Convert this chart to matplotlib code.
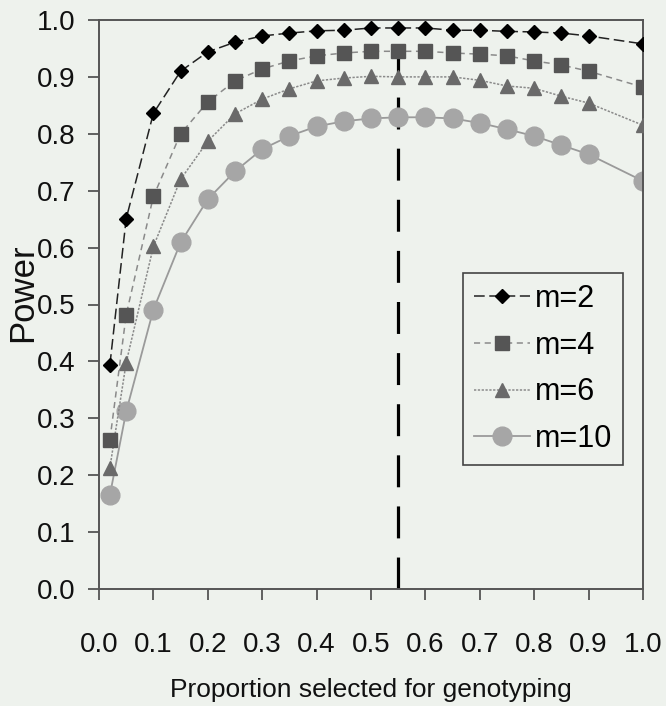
import matplotlib
matplotlib.use("Agg")
import matplotlib.pyplot as plt

plt.rcParams['font.family'] = ['Liberation Sans', 'DejaVu Sans']

proportion = [0.02, 0.05, 0.10, 0.15, 0.20, 0.25, 0.30, 0.35, 0.40, 0.45,
              0.50, 0.55, 0.60, 0.65, 0.70, 0.75, 0.80, 0.85, 0.90, 1.00]
power_m2 = [0.394, 0.651, 0.836, 0.910, 0.944, 0.961, 0.972, 0.977, 0.981, 0.982,
            0.986, 0.986, 0.986, 0.982, 0.982, 0.980, 0.979, 0.977, 0.972, 0.958]
power_m4 = [0.262, 0.482, 0.690, 0.800, 0.856, 0.893, 0.914, 0.928, 0.937, 0.942,
            0.945, 0.945, 0.945, 0.942, 0.940, 0.937, 0.928, 0.921, 0.910, 0.882]
power_m6 = [0.213, 0.398, 0.602, 0.720, 0.787, 0.835, 0.861, 0.879, 0.893, 0.898,
            0.901, 0.900, 0.900, 0.900, 0.894, 0.884, 0.880, 0.866, 0.854, 0.815]
power_m10 = [0.165, 0.312, 0.491, 0.609, 0.685, 0.734, 0.773, 0.796, 0.813, 0.822,
             0.827, 0.829, 0.829, 0.827, 0.819, 0.808, 0.796, 0.780, 0.764, 0.717]
series_labels = ["m=2", "m=4", "m=6", "m=10"]
optimum_proportion = 0.55
optimum_top = 0.986

xticks = [0.0, 0.1, 0.2, 0.3, 0.4, 0.5, 0.6, 0.7, 0.8, 0.9, 1.0]
yticks = [0.0, 0.1, 0.2, 0.3, 0.4, 0.5, 0.6, 0.7, 0.8, 0.9, 1.0]

bg = '#eef2ed'
fig = plt.figure(figsize=(6.66, 7.06), dpi=100, facecolor=bg)
ax = fig.add_axes([99/666, 1-589/706, 544/666, 569/706], facecolor=bg)

ax.plot(proportion, power_m2, color='#222222', lw=1.1, dashes=(7, 3),
        marker='D', ms=7, mfc='#000000', mec='#000000', label=series_labels[0], zorder=5)
ax.plot(proportion, power_m4, color='#8a8a8a', lw=1.1, dashes=(4, 3),
        marker='s', ms=9.5, mfc='#555555', mec='#555555', label=series_labels[1], zorder=4)
ax.plot(proportion, power_m6, color='#8a8a8a', lw=1.1, dashes=(1.5, 1),
        marker='^', ms=10, mfc='#6a6a6a', mec='#6a6a6a', label=series_labels[2], zorder=3)
ax.plot(proportion, power_m10, color='#9a9a9a', lw=1.3, ls='-',
        marker='o', ms=13.5, mfc='#a6a6a6', mec='#a6a6a6', label=series_labels[3], zorder=2)

ax.plot([optimum_proportion, optimum_proportion], [0.0, optimum_top], color='#000000',
        lw=2.3, dashes=(10, 6), zorder=1)

ax.set_xlim(0, 1.0)
ax.set_ylim(0, 1.0)
ax.set_xticks(xticks)
ax.set_yticks(yticks)
ax.set_xticklabels([f"{t:.1f}" for t in xticks])
ax.set_yticklabels([f"{t:.1f}" for t in yticks])

for s in ax.spines.values():
    s.set_color('#555555')
    s.set_linewidth(1.4)

ax.tick_params(axis='x', direction='out', length=8, width=1.3, color='#555555',
               labelsize=20, pad=23, labelcolor='#111111')
ax.tick_params(axis='y', direction='out', length=8, width=1.3, color='#555555',
               labelsize=20, pad=9, labelcolor='#111111')

ax.set_xlabel("Proportion selected for genotyping", fontsize=19, color='#111111')
ax.xaxis.set_label_coords(0.50, -0.177)
ax.xaxis.label.set_va('center')
ax.set_ylabel("Power", fontsize=25, color='#111111')
ax.yaxis.set_label_coords(-0.141, 0.52)
ax.yaxis.label.set_va('center')

leg = ax.legend(loc='upper left', bbox_to_anchor=((463-99)/544, (589-273)/569),
                fontsize=22, frameon=True, fancybox=False, edgecolor='#444444',
                facecolor=bg, framealpha=1, handlelength=1.85, handletextpad=0.15,
                labelspacing=0.55, borderpad=0.35, borderaxespad=0)
leg.get_frame().set_linewidth(1.2)

fig.savefig("out.png", dpi=100, facecolor=bg)
